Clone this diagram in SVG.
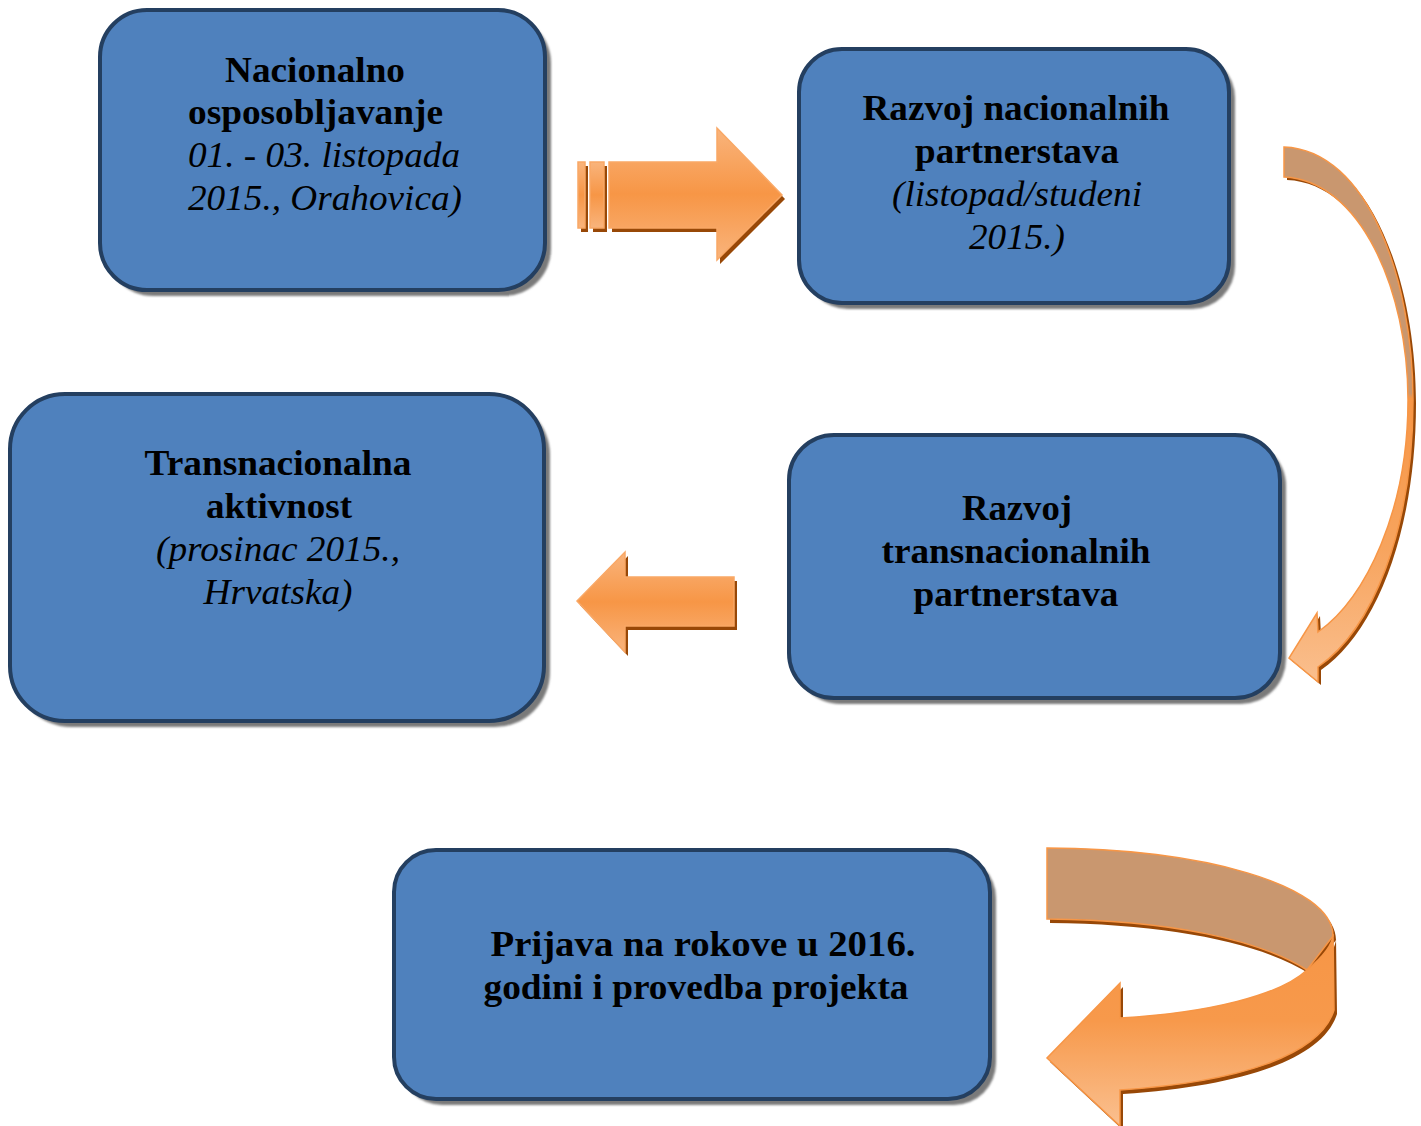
<svg xmlns="http://www.w3.org/2000/svg" width="1421" height="1126" viewBox="0 0 1421 1126">
<defs>
<style>
.box{fill:#4f81bd;stroke:#243f60;stroke-width:4}
.shd{fill:#7a7a7a}
.b{font-family:"Liberation Serif","Times New Roman",serif;font-weight:bold;font-size:35px;fill:#000;text-anchor:middle}
.i{font-family:"Liberation Serif","Times New Roman",serif;font-style:italic;font-size:35px;fill:#000;text-anchor:middle}
.ash{fill:#984807}
.arr{stroke:#f9a866;stroke-width:1.5}
.tan{fill:#c9976f;stroke:#f79646;stroke-width:1.5}
</style>
<filter id="blur" x="-5%" y="-5%" width="110%" height="110%"><feGaussianBlur stdDeviation="0.8"/></filter>
<linearGradient id="gS" x1="0" y1="0" x2="0" y2="1">
<stop offset="0" stop-color="#f9b47c"/>
<stop offset="0.5" stop-color="#f79646"/>
<stop offset="1" stop-color="#f9b47c"/>
</linearGradient>
<linearGradient id="gC" gradientUnits="userSpaceOnUse" x1="0" y1="147" x2="0" y2="682">
<stop offset="0" stop-color="#c9976f"/>
<stop offset="0.46" stop-color="#c9976f"/>
<stop offset="0.47" stop-color="#f79646"/>
<stop offset="0.75" stop-color="#f7a45e"/>
<stop offset="1" stop-color="#fabf8e"/>
</linearGradient>
<linearGradient id="gU" gradientUnits="userSpaceOnUse" x1="0" y1="935" x2="0" y2="1126">
<stop offset="0" stop-color="#f79646"/>
<stop offset="0.45" stop-color="#f7994b"/>
<stop offset="1" stop-color="#fac090"/>
</linearGradient>
</defs>
<rect width="1421" height="1126" fill="#fff"/>

<g id="node-nacionalno">
<rect class="shd" filter="url(#blur)" x="106" y="16" width="445" height="280" rx="47"/>
<rect class="box" x="100" y="10" width="445" height="280" rx="47"/>
<text class="b" x="315" y="82" textLength="180" lengthAdjust="spacingAndGlyphs">Nacionalno</text>
<text class="b" x="188" y="124" style="text-anchor:start" textLength="255" lengthAdjust="spacingAndGlyphs">osposobljavanje</text>
<text class="i" x="188" y="167" style="text-anchor:start" textLength="272" lengthAdjust="spacingAndGlyphs">01. - 03. listopada</text>
<text class="i" x="188" y="210" style="text-anchor:start" textLength="274" lengthAdjust="spacingAndGlyphs">2015., Orahovica)</text>
</g>

<g id="node-razvoj-nac">
<rect class="shd" filter="url(#blur)" x="805" y="55" width="430" height="254" rx="43"/>
<rect class="box" x="799" y="49" width="430" height="254" rx="43"/>
<text class="b" x="1016" y="120" textLength="307" lengthAdjust="spacingAndGlyphs">Razvoj nacionalnih</text>
<text class="b" x="1017" y="163" textLength="204" lengthAdjust="spacingAndGlyphs">partnerstava</text>
<text class="i" x="1017" y="206" textLength="250" lengthAdjust="spacingAndGlyphs">(listopad/studeni</text>
<text class="i" x="1017" y="249" textLength="96" lengthAdjust="spacingAndGlyphs">2015.)</text>
</g>

<g id="node-transnacionalna">
<rect class="shd" filter="url(#blur)" x="16" y="400" width="534" height="327" rx="55"/>
<rect class="box" x="10" y="394" width="534" height="327" rx="55"/>
<text class="b" x="278" y="475" textLength="267" lengthAdjust="spacingAndGlyphs">Transnacionalna</text>
<text class="b" x="279" y="518" textLength="146" lengthAdjust="spacingAndGlyphs">aktivnost</text>
<text class="i" x="278" y="561" textLength="244" lengthAdjust="spacingAndGlyphs">(prosinac 2015.,</text>
<text class="i" x="278" y="604" textLength="149" lengthAdjust="spacingAndGlyphs">Hrvatska)</text>
</g>

<g id="node-razvoj-trans">
<rect class="shd" filter="url(#blur)" x="795" y="441" width="491" height="263" rx="45"/>
<rect class="box" x="789" y="435" width="491" height="263" rx="45"/>
<text class="b" x="1017" y="520" textLength="110" lengthAdjust="spacingAndGlyphs">Razvoj</text>
<text class="b" x="1016" y="563" textLength="269" lengthAdjust="spacingAndGlyphs">transnacionalnih</text>
<text class="b" x="1016" y="606" textLength="205" lengthAdjust="spacingAndGlyphs">partnerstava</text>
</g>

<g id="node-prijava">
<rect class="shd" filter="url(#blur)" x="400" y="856" width="596" height="249" rx="42"/>
<rect class="box" x="394" y="850" width="596" height="249" rx="42"/>
<text class="b" x="703" y="956" textLength="425" lengthAdjust="spacingAndGlyphs">Prijava na rokove u 2016.</text>
<text class="b" x="696" y="999" textLength="425" lengthAdjust="spacingAndGlyphs">godini i provedba projekta</text>
</g>

<g id="connectors">
<g transform="translate(3,4)" class="ash">
<rect x="578" y="162" width="7" height="66"/>
<rect x="590" y="162" width="14" height="66"/>
<path d="M609,162 L717,162 L717,128 L782,195 L717,260 L717,228 L609,228 Z"/>
</g>
<rect class="arr" fill="url(#gS)" x="578" y="162" width="7" height="66"/>
<rect class="arr" fill="url(#gS)" x="590" y="162" width="14" height="66"/>
<path class="arr" fill="url(#gS)" d="M609,162 L717,162 L717,128 L782,195 L717,260 L717,228 L609,228 Z"/>

<path class="ash" transform="translate(3,4)" d="M577,601 L625,552 L625,577 L734,577 L734,626 L625,626 L625,652 Z"/>
<path class="arr" fill="url(#gS)" d="M577,601 L625,552 L625,577 L734,577 L734,626 L625,626 L625,652 Z"/>

<path class="ash" transform="translate(3,3)" d="M1284,147 C1368,150 1413,280 1413,400 C1413,530 1372,630 1318,667 L1318,682 L1289,658 L1317,613 L1318,632 C1366,598 1408,510 1408,400 C1408,290 1360,180 1284,177 Z"/>
<path fill="url(#gC)" stroke="#f79646" stroke-width="1.5" d="M1284,147 C1368,150 1413,280 1413,400 C1413,530 1372,630 1318,667 L1318,682 L1289,658 L1317,613 L1318,632 C1366,598 1408,510 1408,400 C1408,290 1360,180 1284,177 Z"/>

<path class="ash" transform="translate(3,4)" d="M1047,848 C1200,848 1333,885 1333,936 L1307,970 C1260,940 1170,920 1047,919 Z"/>
<path class="tan" d="M1047,848 C1200,848 1333,885 1333,936 L1307,970 C1260,940 1170,920 1047,919 Z"/>
<path class="ash" transform="translate(3,4)" d="M1333,934 L1334,1010 C1320,1055 1240,1082 1120,1090 L1120,1126 L1047,1058 L1120,983 L1120,1018 C1210,1013 1280,995 1307,970 C1324,956 1333,945 1333,934 Z"/>
<path fill="url(#gU)" stroke="#f79646" stroke-width="1.5" d="M1333,934 L1334,1010 C1320,1055 1240,1082 1120,1090 L1120,1126 L1047,1058 L1120,983 L1120,1018 C1210,1013 1280,995 1307,970 C1324,956 1333,945 1333,934 Z"/>
</g>
</svg>
